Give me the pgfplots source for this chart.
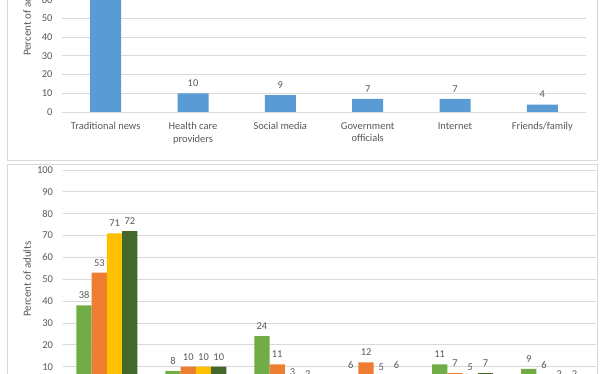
\documentclass[border=0pt]{standalone}
\usepackage{pgfplots}
\pgfplotsset{compat=1.18}
\usepackage{fontspec}
\setmainfont{Carlito}
\definecolor{txt}{HTML}{595959}
\definecolor{grd}{HTML}{D9D9D9}
\definecolor{cblue}{HTML}{5B9BD5}
\definecolor{cgreen}{HTML}{70AD47}
\definecolor{corange}{HTML}{ED7D31}
\definecolor{cyellow}{HTML}{FFC000}
\definecolor{cdkgreen}{HTML}{43682B}
\pgfplotsset{
  mystyle/.style={
    scale only axis,
    axis line style={draw=none},
    ymajorgrids,
    grid style={grd, line width=0.75bp},
    major tick length=0pt,
    ymin=0, ymax=100, ytick={0,10,...,100},
    xmin=-0.5, xmax=5.5, xtick={0,...,5},
    enlarge x limits=false,
    tick label style={font=\fontsize{10.5}{12.5}\selectfont, text=txt},
    yticklabel style={xshift=-6bp},
    /pgf/number format/assume math mode=true,
    nodes near coords,
    every node near coord/.append style={font=\fontsize{10.5}{12.5}\selectfont, text=txt, yshift=3bp},
    xticklabels={Traditional news, {Health care\\providers}, Social media, {Government\\officials}, Internet, Friends/family},
    xticklabel style={align=center, yshift=-7bp},
    ylabel={Percent of adults},
    every axis y label/.style={rotate=90, anchor=center, font=\fontsize{11}{13}\selectfont, text=txt},
  }
}
\begin{document}
\begin{tikzpicture}
\path[use as bounding box] (0bp,0bp) rectangle (612bp,374bp);
\clip (0bp,0bp) rectangle (612bp,374bp);
\fill[white] (0bp,0bp) rectangle (612bp,374bp);
\draw[grd, line width=0.75bp] (7bp,420bp) rectangle (597bp,213.3bp);
\draw[grd, line width=0.75bp] (7bp,210bp) rectangle (597bp,-40bp);

\begin{axis}[mystyle, at={(62bp,262bp)}, anchor=south west,
  width=524bp, height=187.4bp,
  ybar, bar width=31bp,
  y label style={at={(axis description cs:-0.0668,0.5)}}]
\addplot[fill=cblue, draw=none] coordinates {(0,62) (1,10) (2,9) (3,7) (4,7) (5,4)};
\end{axis}

\begin{axis}[mystyle, at={(62.5bp,-14.5bp)}, anchor=south west,
  width=533.5bp, height=218.5bp,
  ybar=0pt, bar width=15.25bp,
  y label style={at={(axis description cs:-0.0665,0.5)}}]
\addplot[fill=cgreen, draw=none] coordinates {(0,38) (1,8) (2,24) (3,6) (4,11) (5,9)};
\addplot[fill=corange, draw=none] coordinates {(0,53) (1,10) (2,11) (3,12) (4,7) (5,6)};
\addplot[fill=cyellow, draw=none] coordinates {(0,71) (1,10) (2,3) (3,5) (4,5) (5,2)};
\addplot[fill=cdkgreen, draw=none] coordinates {(0,72) (1,10) (2,2) (3,6) (4,7) (5,2)};
\end{axis}
\end{tikzpicture}
\end{document}
